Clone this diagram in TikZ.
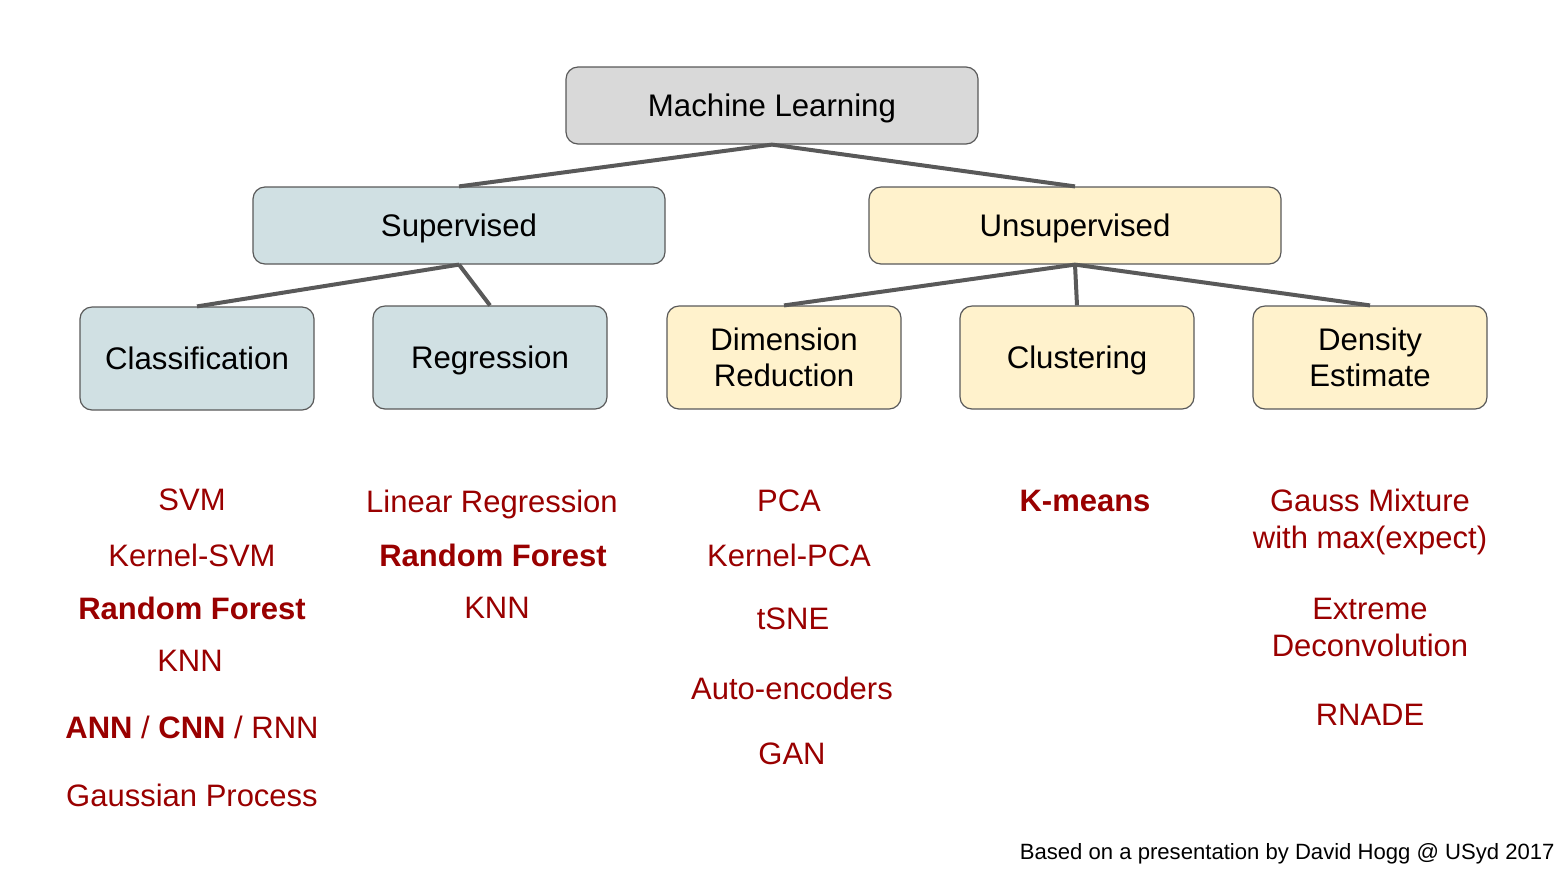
\documentclass[tikz,border=0pt]{standalone}
\usepackage{fontspec}
\setmainfont{Liberation Sans}
\usetikzlibrary{positioning}
\definecolor{ink}{HTML}{000000}
\definecolor{edgegray}{HTML}{595959}
\definecolor{boxgray}{HTML}{D9D9D9}
\definecolor{supbg}{HTML}{D0E0E3}
\definecolor{unsupbg}{HTML}{FFF2CC}
\definecolor{algored}{HTML}{990000}
\tikzset{
  topbox/.style={draw=edgegray,line width=0.6pt,rounded corners=6pt,minimum width=206pt,minimum height=38.5pt,inner sep=0pt,align=center,text depth=0pt,text=ink,font=\fontsize{15.6}{18}\selectfont},
  leafbox/.style={topbox,minimum width=117pt,minimum height=51.5pt},
  treeline/.style={draw=edgegray,line width=2pt},
  algo/.style={text=algored,align=center,inner sep=0pt,text depth=0pt,font=\fontsize{15.5}{18.5}\selectfont},
  algobold/.style={algo,font=\fontsize{15.5}{18.5}\selectfont\bfseries},
  credit/.style={text=ink,anchor=east,inner sep=0pt,text depth=0pt,font=\fontsize{11.05}{13}\selectfont}
}
\begin{document}
\begin{tikzpicture}[x=0.5pt,y=-0.5pt]
  \useasboundingbox (0,0) rectangle (1566,869);
  % tree
  \node[topbox,fill=boxgray] (ml) at (772,105.5) {Machine Learning};
  \node[topbox,fill=supbg] (sup) at (459,225.5) {Supervised};
  \node[topbox,fill=unsupbg] (unsup) at (1075,225.5) {Unsupervised};
  \node[leafbox,fill=supbg] (clf) at (197,358.5) {Classification};
  \node[leafbox,fill=supbg] (reg) at (490,357.5) {Regression};
  \node[leafbox,fill=unsupbg] (dimred) at (784,357.5) {Dimension\\Reduction};
  \node[leafbox,fill=unsupbg] (clust) at (1077,357.5) {Clustering};
  \node[leafbox,fill=unsupbg] (dens) at (1370,357.5) {Density\\Estimate};
  \draw[treeline] (ml.south) -- (sup.north); \draw[treeline] (ml.south) -- (unsup.north);
  \draw[treeline] (sup.south) -- (clf.north); \draw[treeline] (sup.south) -- (reg.north);
  \draw[treeline] (unsup.south) -- (dimred.north); \draw[treeline] (unsup.south) -- (clust.north);
  \draw[treeline] (unsup.south) -- (dens.north);

  % algorithms
  \node[algo] (svm) at (192,500) {SVM};
  \node[algo] (ksvm) at (192,555) {Kernel-SVM};
  \node[algobold] (rfclf) at (192,608) {Random Forest};
  \node[algo] (knnclf) at (190,661) {KNN};
  \node[algo] (nets) at (192,727) {\textbf{ANN} / \textbf{CNN} / RNN};
  \node[algo] (gp) at (192,795) {Gaussian Process};

  \node[algo] (linreg) at (492,501) {Linear Regression};
  \node[algobold] (rfreg) at (493,555) {Random Forest};
  \node[algo] (knnreg) at (497,608) {KNN};

  \node[algo] (pca) at (789,501) {PCA};
  \node[algo] (kpca) at (789,555) {Kernel-PCA};
  \node[algo] (tsne) at (793,619) {tSNE};
  \node[algo] (autoenc) at (792,688) {Auto-encoders};
  \node[algo] (gan) at (792,754) {GAN};

  \node[algobold] (kmeans) at (1085,501) {K-means};

  \node[algo] (gmm) at (1370,519) {Gauss Mixture\\with max(expect)};
  \node[algo] (xd) at (1370,627) {Extreme\\Deconvolution};
  \node[algo] (rnade) at (1370,715) {RNADE};

  \node[credit] (source) at (1555,851) {Based on a presentation by David Hogg @ USyd 2017};
\end{tikzpicture}
\end{document}
